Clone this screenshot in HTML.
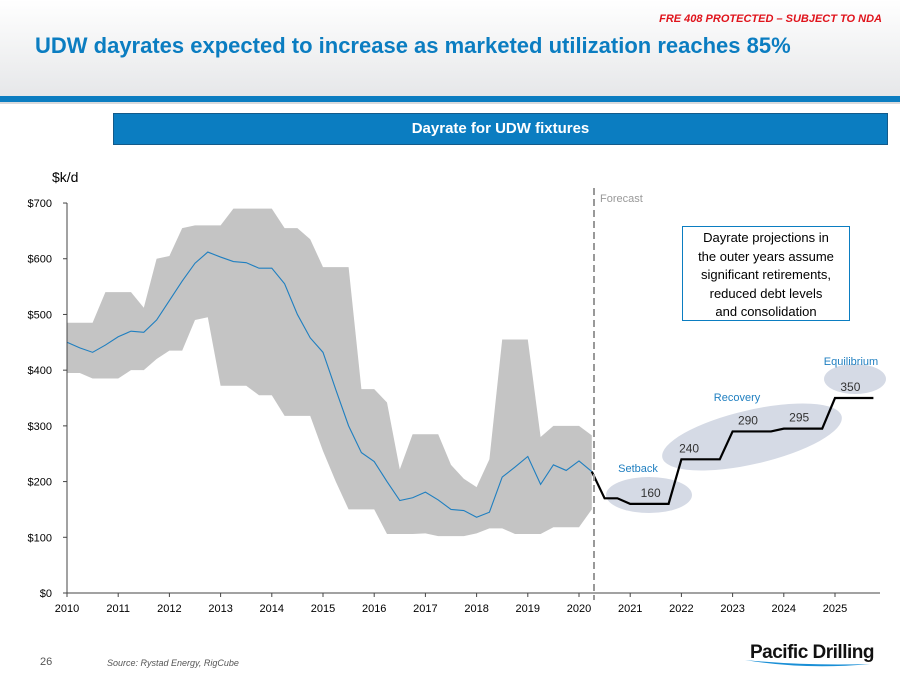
<!DOCTYPE html>
<html><head><meta charset="utf-8">
<style>
body{margin:0;width:900px;height:695px;overflow:hidden;background:#fff;font-family:"Liberation Sans",sans-serif;position:relative}
.hdr{position:absolute;left:0;top:0;width:900px;height:96px;background:linear-gradient(#fff,#e6e7e9)}
.bar{position:absolute;left:0;top:96px;width:900px;height:6px;background:#0b7dc1}
.bar2{position:absolute;left:0;top:102px;width:900px;height:2px;background:#d9dadc}
.nda{position:absolute;right:18px;top:13px;color:#e0141c;font-size:11px;font-weight:bold;font-style:italic}
.title{position:absolute;left:35px;top:33px;color:#0b7dc1;font-size:22px;font-weight:bold}
.band{position:absolute;left:113px;top:113px;width:773px;height:30px;background:#0b7dc1;border:1px solid #135a8a;color:#fff;font-weight:bold;font-size:15px;text-align:center;line-height:30px}
.note{position:absolute;left:682px;top:226px;width:168px;height:95px;border:1px solid #0b7dc1;background:#fff;font-size:13px;text-align:center;line-height:18.5px;padding-top:2px;box-sizing:border-box;color:#000;white-space:nowrap}
.pg{position:absolute;left:40px;top:656px;font-size:11px;color:#555}
.src{position:absolute;left:107px;top:658px;font-size:9px;font-style:italic;color:#555}
.logo{position:absolute;left:750px;top:642px;font-size:19px;font-weight:bold;color:#111;letter-spacing:-0.5px}
</style></head><body>
<div class="hdr"></div>
<div class="bar"></div>
<div class="bar2"></div>
<div class="nda">FRE 408 PROTECTED – SUBJECT TO NDA</div>
<div class="title">UDW dayrates expected to increase as marketed utilization reaches 85%</div>
<div class="band">Dayrate for UDW fixtures</div>
<svg id="chart" width="900" height="695" style="position:absolute;left:0;top:0"></svg>
<div class="note">Dayrate projections in<br>the outer years assume<br>significant retirements,<br>reduced debt levels<br>and consolidation</div>
<div class="pg">26</div>
<div class="src">Source: Rystad Energy, RigCube</div>
<div class="logo">Pacific Drilling
<svg width="125" height="14" style="position:absolute;left:-5px;top:14px"><path d="M0 4 Q60 14 125 8 Q60 10 0 4Z" fill="#1a8fd6"/></svg></div>
<script>
const years=["2010","2011","2012","2013","2014","2015","2016","2017","2018","2019","2020","2021","2022","2023","2024","2025"];
const yTicks=[0,100,200,300,400,500,600,700];
const midValues=[450,440,432,445,460,470,468,490,525,560,592,612,603,595,593,583,583,555,500,458,432,365,300,252,236,200,166,171,181,167,150,148,136,145,208,226,245,195,230,220,237,218];
const upperValues=[485,485,485,540,540,540,512,600,605,655,660,660,660,690,690,690,690,655,655,635,585,585,585,366,366,342,222,285,285,285,230,205,190,240,455,455,455,280,300,300,300,283];
const lowerValues=[395,395,385,385,385,400,400,420,435,435,490,495,372,372,372,355,355,318,318,318,255,200,150,150,150,106,106,106,107,102,102,102,107,116,116,106,106,106,118,118,118,150];
const fcTimes=[10.25,10.5,10.75,11,11.75,12,12.75,13,13.75,14,14.75,15,15.75];
const fcValues=[218,170,170,160,160,240,240,290,290,295,295,350,350];
const fcLabels=[["160",11.4,160],["240",12.15,240],["290",13.3,290],["295",14.3,295],["350",15.3,350]];
const X=t=>67+t*51.2, Y=v=>593-v*0.5571;
const svg=document.getElementById('chart');const NS="http://www.w3.org/2000/svg";
function mk(tag,at,txt){const e=document.createElementNS(NS,tag);for(const k in at)e.setAttribute(k,at[k]);if(txt!==undefined)e.textContent=txt;svg.appendChild(e);return e;}
let e;
e=mk('ellipse',{cx:649,cy:495,rx:43,ry:18,fill:'#d5dae5'});


e=mk('ellipse',{cx:752,cy:437,rx:92,ry:27,fill:'#d5dae5',transform:'rotate(-13 752 437)'});


e=mk('ellipse',{cx:855,cy:379,rx:31,ry:15,fill:'#d5dae5'});


let pts=upperValues.map((v,i)=>X(i*0.25)+','+Y(v));
for(let i=lowerValues.length-1;i>=0;i--)pts.push(X(i*0.25)+','+Y(lowerValues[i]));
e=mk('polygon',{points:pts.join(' '),fill:'#c4c4c4'});


e=mk('polyline',{points:midValues.map((v,i)=>X(i*0.25)+','+Y(v)).join(' '),fill:'none',stroke:'#1f7fc0','stroke-width':1.1});


e=mk('polyline',{points:fcTimes.map((t,i)=>X(t)+','+Y(fcValues[i])).join(' '),fill:'none',stroke:'#000','stroke-width':2.2});


e=mk('line',{x1:67,y1:203,x2:67,y2:593,stroke:'#444'});


e=mk('line',{x1:67,y1:593,x2:880,y2:593,stroke:'#444'});


yTicks.forEach(v=>{mk('line',{x1:63,y1:Y(v),x2:67,y2:Y(v),stroke:'#444'});
e=mk('text',{x:52,y:Y(v)+4,'font-size':11,'text-anchor':'end',fill:'#000'},'$'+v);

});
years.forEach((y,i)=>{mk('line',{x1:X(i),y1:593,x2:X(i),y2:597,stroke:'#444'});
e=mk('text',{x:X(i),y:612,'font-size':11,'text-anchor':'middle',fill:'#000'},y);

});
e=mk('text',{x:52,y:182,'font-size':14,fill:'#000'},'$k/d');


e=mk('line',{x1:594,y1:188,x2:594,y2:600,stroke:'#999','stroke-width':2,'stroke-dasharray':'7,4'});


e=mk('text',{x:600,y:202,'font-size':11,fill:'#999'},'Forecast');


fcLabels.forEach(l=>{e=mk('text',{x:X(l[1]),y:Y(l[2])-7,'font-size':12,'text-anchor':'middle',fill:'#333'},l[0]);

});
[["Setback",638,472],["Recovery",737,401],["Equilibrium",851,365]].forEach(p=>{e=mk('text',{x:p[1],y:p[2],'font-size':11,'text-anchor':'middle',fill:'#1f7fc0'},p[0]);

});
</script>
</body></html>
